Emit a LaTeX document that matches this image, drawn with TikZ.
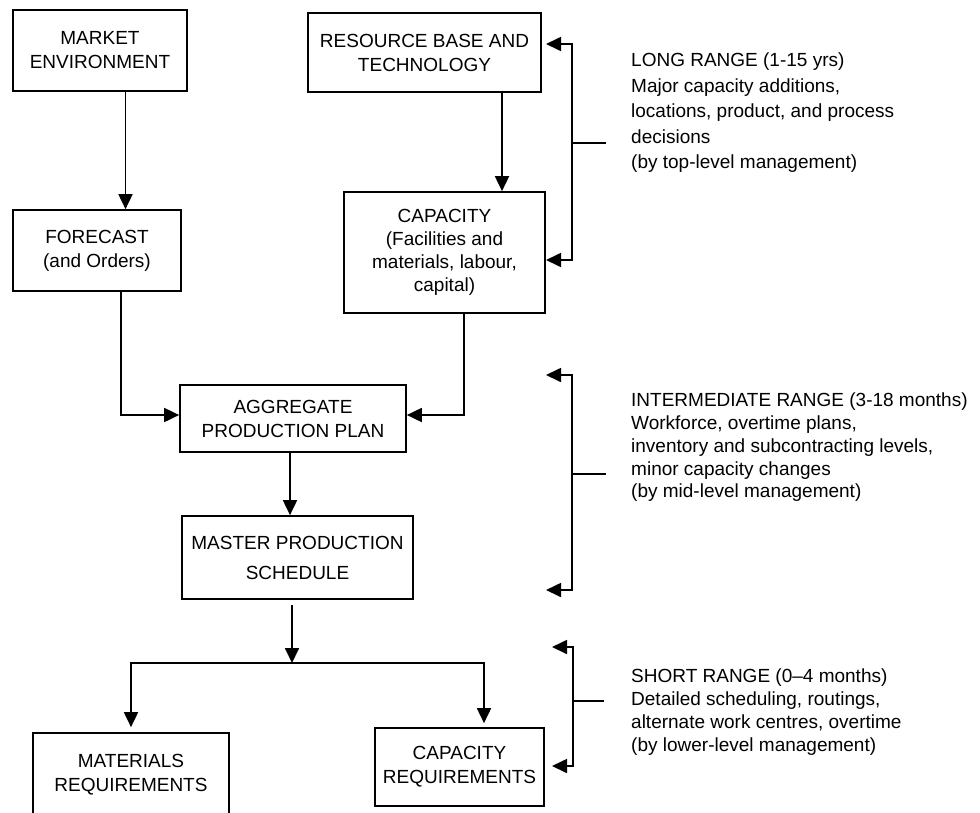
\documentclass[tikz,border=0pt]{standalone}
\usepackage{fontspec}
\setmainfont{Liberation Sans}
\usetikzlibrary{arrows.meta}
\begin{document}
\begin{tikzpicture}[x=1pt,y=-1pt,
  box/.style={draw, line width=1.7pt, align=center, inner sep=0pt,
    font=\fontsize{19}{24}\selectfont},
  flow/.style={line width=1.8pt, -{Triangle[length=15pt,width=14pt]}},
  brace/.style={line width=1.7pt, {Triangle[length=15pt,width=14pt]}-{Triangle[length=15pt,width=14pt]}},
  link/.style={line width=1.7pt},
  note/.style={anchor=north west, align=left, inner sep=0pt}
]
\useasboundingbox (0,0) rectangle (980,812);

% planning boxes
\node[box, minimum width=174pt, minimum height=81pt] (market) at (100,50.5)
  {MARKET\\ENVIRONMENT};
\node[box, minimum width=233pt, minimum height=79pt] (resource) at (424.5,52.5)
  {RESOURCE BASE AND\\TECHNOLOGY};
\node[box, minimum width=168pt, minimum height=81pt] (forecast) at (97,250.5)
  {FORECAST\\(and Orders)};
\node[box, minimum width=201pt, minimum height=121pt,
      font=\fontsize{19}{23}\selectfont] (capacity) at (444.5,252.5)
  {CAPACITY\\(Facilities and\\materials, labour,\\capital)};
\node[box, minimum width=226pt, minimum height=67pt] (agg) at (293,418.5)
  {AGGREGATE\\PRODUCTION PLAN};
\node[box, minimum width=231pt, minimum height=83pt,
      font=\fontsize{19}{30}\selectfont] (mps) at (297.5,557.5)
  {MASTER PRODUCTION\\SCHEDULE};
\node[box, minimum width=196pt, minimum height=84pt] (matreq) at (131,775)
  {MATERIALS\\REQUIREMENTS};
\node[box, minimum width=169pt, minimum height=78pt] (capreq) at (459.5,767)
  {CAPACITY\\REQUIREMENTS};

% flow between boxes
\draw[flow] ([xshift=25.5pt]market.south) -- ([xshift=25.5pt]market.south |- forecast.north);
\draw[flow] ([xshift=77.5pt]resource.south) -- ([xshift=77.5pt]resource.south |- capacity.north);
\draw[flow] ([xshift=24pt]forecast.south) |- ([yshift=3.5pt]agg.west);
\draw[flow] ([xshift=19.5pt]capacity.south) |- ([yshift=3.5pt]agg.east);
\draw[flow] ([xshift=-3pt]agg.south) -- ([xshift=-3pt]agg.south |- mps.north);
\coordinate (mpsout) at (292,605);
\coordinate (split) at (292,663);
\draw[flow] (mpsout) -- (split);
\draw[flow, shorten >=5pt] (split) -| (matreq.north);
\draw[flow, shorten >=4pt] (split) -| ([xshift=24.5pt]capreq.north);

% planning horizons
\coordinate (lrtop) at (546,44);
\coordinate (lrbot) at (546,260);
\coordinate (lrmid) at (572,143);
\coordinate (lrtick) at (606,143);
\draw[brace] (lrtop) -- (lrtop -| lrmid) -- (lrbot -| lrmid) -- (lrbot);
\draw[link] (lrmid) -- (lrtick);
\node[note, font=\fontsize{19}{25.5}\selectfont] (longtxt) at (631,53)
  {LONG RANGE (1-15 yrs)\\Major capacity additions,\\locations, product, and process\\decisions\\(by top-level management)};

\coordinate (irtop) at (546,375);
\coordinate (irbot) at (546,590);
\coordinate (irmid) at (572,474);
\coordinate (irtick) at (606,474);
\draw[brace] (irtop) -- (irtop -| irmid) -- (irbot -| irmid) -- (irbot);
\draw[link] (irmid) -- (irtick);
\node[note, font=\fontsize{19}{22.7}\selectfont] (midtxt) at (631,393)
  {INTERMEDIATE RANGE (3-18 months)\\Workforce, overtime plans,\\inventory and subcontracting levels,\\minor capacity changes\\(by mid-level management)};

\coordinate (srtop) at (552,647);
\coordinate (srbot) at (552,766);
\coordinate (srmid) at (573,701);
\coordinate (srtick) at (604,701);
\draw[brace] (srtop) -- (srtop -| srmid) -- (srbot -| srmid) -- (srbot);
\draw[link] (srmid) -- (srtick);
\node[note, font=\fontsize{19}{23}\selectfont] (shorttxt) at (631,669)
  {SHORT RANGE (0--4 months)\\Detailed scheduling, routings,\\alternate work centres, overtime\\(by lower-level management)};
\end{tikzpicture}
\end{document}
